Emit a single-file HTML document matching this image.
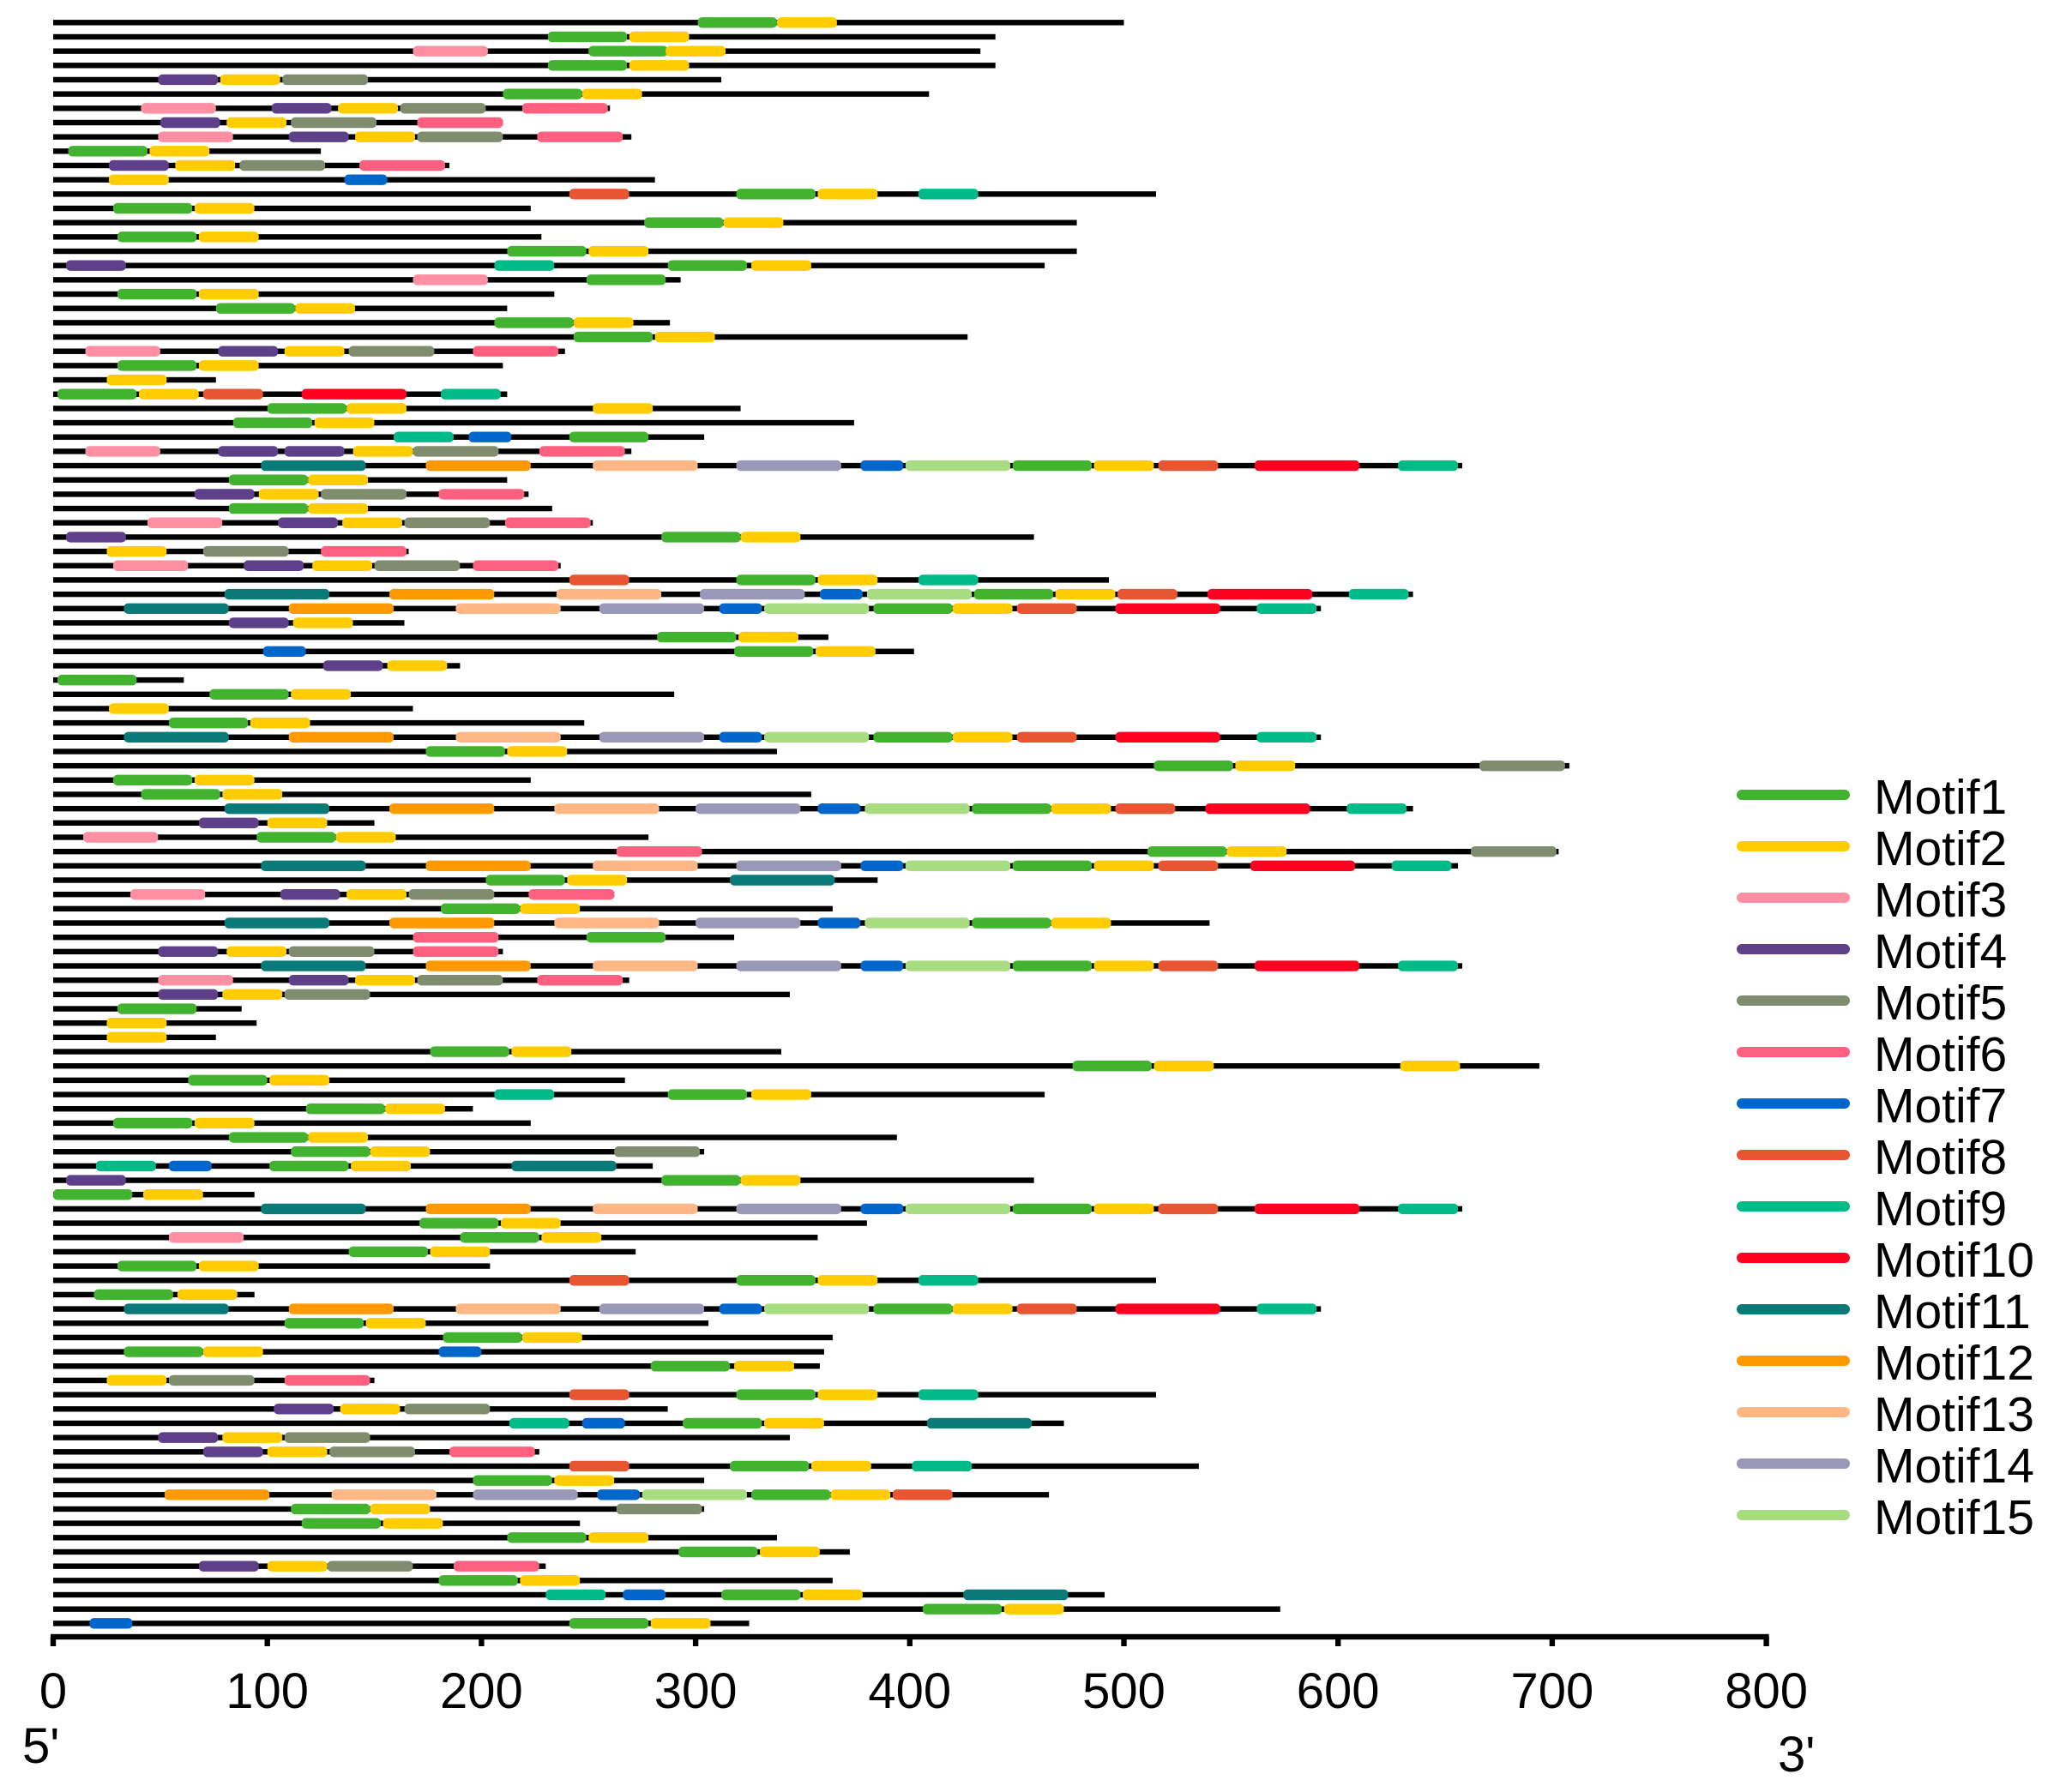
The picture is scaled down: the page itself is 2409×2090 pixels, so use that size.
<!DOCTYPE html>
<html><head><meta charset="utf-8"><style>
html,body{margin:0;padding:0;background:#fff;}
svg{display:block;font-family:"Liberation Sans",Arial,sans-serif;}
</style></head><body>
<svg id="chart" width="2409" height="2090" viewBox="0 0 2409 2090" xmlns="http://www.w3.org/2000/svg">
<g id="rows"></g>
<g id="axis"></g>
<g id="legend"></g>
</svg>
<script>
const motifNames=["Motif1","Motif2","Motif3","Motif4","Motif5","Motif6","Motif7","Motif8","Motif9","Motif10","Motif11","Motif12","Motif13","Motif14","Motif15"];
const motifColors=["#42b32f","#ffcc00","#ff8fa3","#5e3f8a","#7f8c6e","#ff6080","#0066cc","#e85530","#00bb88","#ff0020","#0a7a78","#ff9900","#ffb885","#9a98b8","#a8dc80"];
const motifLengths=[37,28,35,28,40,40,20,28,28,49,49,49,49,49,49];
const xTicks=[0,100,200,300,400,500,600,700,800];
const seqLengths=[500,440,433,440,312,409,260,210,270,125,185,281,515,223,478,228,478,463,293,234,212,288,427,239,210,76,212,321,374,304,270,658,212,222,233,252,458,166,237,493,635,592,164,362,402,190,61,290,168,248,592,338,708,223,354,635,150,278,703,656,385,262,364,540,318,210,658,269,344,88,95,76,340,694,267,463,196,223,394,304,280,458,94,658,380,357,272,204,515,94,592,306,364,360,358,150,515,287,472,344,227,535,304,465,304,246,338,372,230,364,491,573,325];
const BIG31=[[11,97],[12,174],[13,252],[14,319],[7,377],[15,398],[1,448],[2,486],[8,516],[10,561],[9,628]];
const BIG41=[[11,33],[12,110],[13,188],[14,255],[7,311],[15,332],[1,383],[2,420],[8,450],[10,496],[9,562]];
const BIG55=[[11,80],[12,157],[13,234],[14,300],[7,357],[15,379],[1,429],[2,466],[8,496],[10,538],[9,604]];
const seqMotifs=[
[[1,301],[2,338]],[[1,231],[2,269]],[[3,168],[1,250],[2,286]],[[1,231],[2,269]],[[4,49],[2,78],[5,107]],
[[1,210],[2,247]],[[3,41],[4,102],[2,133],[5,162],[6,219]],[[4,50],[2,81],[5,111],[6,170]],[[3,49],[4,110],[2,141],[5,170],[6,226]],[[1,7],[2,45]],
[[4,26],[2,57],[5,87],[6,143]],[[2,26],[7,136]],[[8,241],[1,319],[2,357],[9,404]],[[1,28],[2,66]],[[1,276],[2,313]],
[[1,30],[2,68]],[[1,212],[2,250]],[[4,6],[9,206],[1,287],[2,326]],[[3,168],[1,249]],[[1,30],[2,68]],
[[1,76],[2,113]],[[1,206],[2,243]],[[1,243],[2,281]],[[3,15],[4,77],[2,108],[5,138],[6,196]],[[1,30],[2,68]],
[[2,25]],[[1,2],[2,40],[8,70],[10,116],[9,181]],[[1,100],[2,137],[2,252]],[[1,84],[2,122]],[[9,159],[7,194],[1,241]],
[[3,15],[4,77],[4,108],[2,140],[5,168],[6,227]],BIG31,[[1,82],[2,119]],[[4,66],[2,96],[5,125],[6,180]],[[1,82],[2,119]],
[[3,44],[4,105],[2,135],[5,164],[6,211]],[[4,6],[1,284],[2,321]],[[2,25],[5,70],[6,125]],[[3,28],[4,89],[2,121],[5,150],[6,196]],[[8,241],[1,319],[2,357],[9,404]],
[[11,80],[12,157],[13,235],[14,302],[7,358],[15,380],[1,430],[2,468],[8,497],[10,539],[9,605]],BIG41,[[4,82],[2,112]],[[1,282],[2,320]],[[7,98],[1,318],[2,356]],
[[4,126],[2,156]],[[1,2]],[[1,73],[2,111]],[[2,26]],[[1,54],[2,92]],
BIG41,[[1,174],[2,212]],[[1,514],[2,552],[5,666]],[[1,28],[2,66]],[[1,41],[2,79]],
BIG55,[[4,68],[2,100]],[[3,14],[1,95],[2,132]],[[6,263],[1,511],[2,548],[5,662]],[[11,97],[12,174],[13,252],[14,319],[7,377],[15,398],[1,448],[2,486],[8,516],[10,559],[9,625]],
[[1,202],[2,240],[11,316]],[[3,36],[4,106],[2,137],[5,166],[6,222]],[[1,181],[2,218]],[[11,80],[12,157],[13,234],[14,300],[7,357],[15,379],[1,429],[2,466]],[[6,168],[1,249]],
[[4,49],[2,81],[5,110],[6,168]],BIG31,[[3,49],[4,110],[2,141],[5,170],[6,226]],[[4,49],[2,79],[5,108]],[[1,30]],
[[2,25]],[[2,25]],[[1,176],[2,214]],[[1,476],[2,514],[2,629]],[[1,63],[2,101]],
[[9,206],[1,287],[2,326]],[[1,118],[2,155]],[[1,28],[2,66]],[[1,82],[2,119]],[[1,111],[2,148],[5,262]],
[[9,20],[7,54],[1,101],[2,139],[11,214]],[[4,6],[1,284],[2,321]],[[1,0],[2,42]],BIG31,[[1,171],[2,209]],
[[3,54],[1,190],[2,228]],[[1,138],[2,176]],[[1,30],[2,68]],[[8,241],[1,319],[2,357],[9,404]],[[1,19],[2,58]],
BIG41,[[1,108],[2,146]],[[1,182],[2,219]],[[1,33],[2,70],[7,180]],[[1,279],[2,318]],
[[2,25],[5,54],[6,108]],[[8,241],[1,319],[2,357],[9,404]],[[4,103],[2,134],[5,164]],[[9,213],[7,247],[1,294],[2,332],[11,408]],[[4,49],[2,79],[5,108]],
[[4,70],[2,100],[5,129],[6,185]],[[8,241],[1,316],[2,354],[9,401]],[[1,196],[2,234]],[[12,52],[13,130],[14,196],[7,254],[15,275],[1,326],[2,363],[8,392]],[[1,111],[2,148],[5,263]],
[[1,116],[2,154]],[[1,212],[2,250]],[[1,292],[2,330]],[[4,68],[2,100],[5,128],[6,187]],[[1,180],[2,218]],
[[9,230],[7,266],[1,312],[2,350],[11,425]],[[1,406],[2,444]],[[7,17],[1,241],[2,279]]
];
const NS="http://www.w3.org/2000/svg";
const X0=62,PX=2.497,Y0=26.3,STEP=16.67,AXY=1909;
const xs=v=>X0+v*PX;
const ys=i=>Y0+i*STEP;
function mk(tag,attrs,parent){const e=document.createElementNS(NS,tag);for(const k in attrs)e.setAttribute(k,attrs[k]);parent.appendChild(e);return e;}
const rows=document.getElementById('rows');
seqLengths.forEach((len,i)=>{
  const g=mk('g',{},rows);
  
  
  const ln=mk('rect',{x:xs(0),y:ys(i)-3.2,width:len*PX,height:6.4,fill:'#000'},g);
  
  
  (seqMotifs[i]||[]).forEach(m=>{
    const id=m[0]-1;
    const r=mk('rect',{x:xs(m[1]),y:ys(i)-6.2,width:motifLengths[id]*PX,height:12.4,rx:5,ry:5,fill:motifColors[id]},g);
    
    
  });
});
const ax=document.getElementById('axis');
const al=mk('rect',{x:xs(0)-3,y:AXY-3.2,width:xs(800)-xs(0)+6,height:6.4,fill:'#000'},ax);


xTicks.forEach(t=>{
  const tk=mk('rect',{x:xs(t)-3.2,y:AXY,width:6.4,height:11,fill:'#000'},ax);
  
  
  const tl=mk('text',{x:xs(t),y:1992,'text-anchor':'middle','font-size':58,fill:'#000'},ax);
  tl.textContent=t;
  
  
});
const p5=mk('text',{x:26,y:2056,'font-size':58,fill:'#000'},ax);p5.textContent="5'";


const p3=mk('text',{x:2073,y:2066,'font-size':58,fill:'#000'},ax);p3.textContent="3'";


const lg=document.getElementById('legend');
motifNames.forEach((n,i)=>{
  const y=927+i*60;
  const g=mk('g',{},lg);
  
  
  mk('rect',{x:2025,y:y-6,width:132,height:12,rx:6,fill:motifColors[i]},g);
  const t=mk('text',{x:2185,y:y+22,'font-size':57,fill:'#000'},g);
  t.textContent=n;
});
</script>
</body></html>
